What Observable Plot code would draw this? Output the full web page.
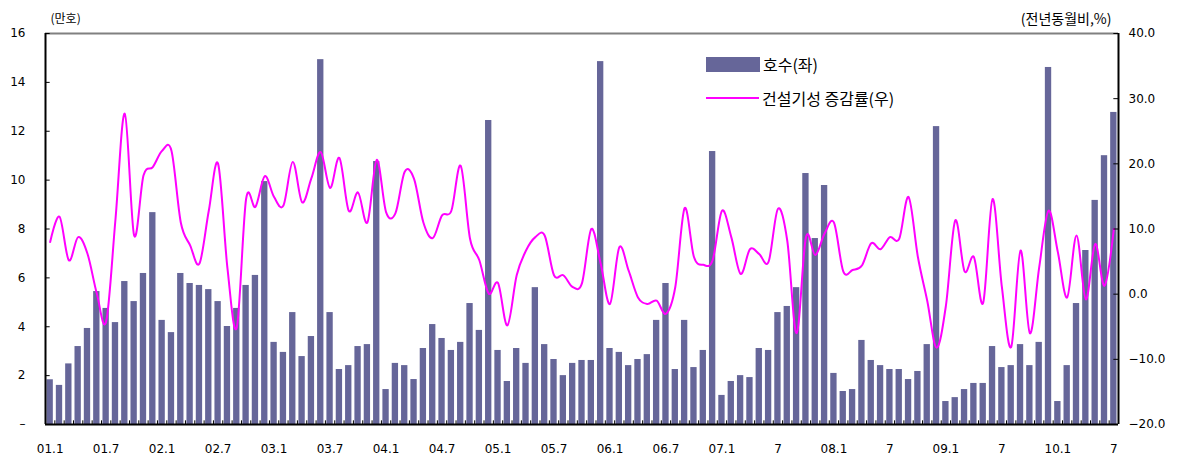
<!DOCTYPE html>
<html>
<head>
<meta charset="utf-8">
<script src="https://cdn.jsdelivr.net/npm/d3@7"></script>
<script src="https://cdn.jsdelivr.net/npm/@observablehq/plot@0.6"></script>
<style>
  body { margin: 0; background: #fff; }
  #wrap { position: relative; width: 1179px; height: 459px; }
  #wrap svg { position: absolute; left: 0; top: 0; }
  .leg { position: absolute; left: 706px; height: 20px; display: flex; align-items: center;
         font-family: "Noto Sans CJK KR", sans-serif; font-size: 16px; color: #000; white-space: nowrap; }
  .sw { margin-right: 3px; }
</style>
</head>
<body>
<div id="wrap">
  <div class="leg" style="top:54px"><div class="sw" style="width:54px;height:15px;background:#666699"></div><span>호수(좌)</span></div>
  <div class="leg" style="top:88px"><div class="sw" style="width:53px;height:2px;background:#FF00FF"></div><span>건설기성 증감률(우)</span></div>
</div>
<script>
// 월별 주택 호수 (만호), 2001.1 ~ 2010.7
const homes = [
  1.83, 1.60, 2.48, 3.19, 3.93, 5.44, 4.75, 4.17, 5.85, 5.03, 6.18, 8.67,
  4.26, 3.76, 6.18, 5.77, 5.69, 5.52, 5.03, 4.01, 4.75, 5.69, 6.10, 9.94,
  3.36, 2.95, 4.58, 2.78, 3.60, 14.93, 4.58, 2.25, 2.41, 3.19, 3.27, 10.76,
  1.43, 2.50, 2.41, 1.84, 3.11, 4.09, 3.52, 3.03, 3.36, 4.95, 3.85, 12.44,
  3.03, 1.76, 3.11, 2.50, 5.60, 3.27, 2.66, 2.00, 2.50, 2.62, 2.62, 14.85,
  3.11, 2.95, 2.41, 2.66, 2.86, 4.26, 5.77, 2.25, 4.26, 2.33, 3.03, 11.17,
  1.19, 1.76, 2.00, 1.92, 3.11, 3.03, 4.58, 4.83, 5.60, 10.27, 7.61, 9.78,
  2.09, 1.35, 1.43, 3.44, 2.62, 2.41, 2.25, 2.25, 1.84, 2.17, 3.27, 12.19,
  0.94, 1.10, 1.43, 1.68, 1.68, 3.19, 2.33, 2.41, 3.27, 2.41, 3.36, 14.61,
  0.94, 2.41, 4.95, 7.12, 9.17, 11.00, 12.77
];
// 건설기성 증감률 (전년동월비, %)
const rates = [
  8.0, 11.9, 5.2, 8.75, 6.2, 0.1, -4.2, 11.5, 27.7, 9.0, 18.2, 19.5,
  22.0, 22.0, 11.0, 7.5, 4.7, 12.8, 20.0, 4.0, -5.1, 14.6, 13.4, 18.1,
  14.9, 13.6, 20.3, 14.1, 17.8, 21.8, 16.3, 20.9, 12.8, 15.6, 11.0, 20.6,
  12.6, 12.4, 18.8, 17.7, 11.0, 8.6, 12.1, 12.8, 19.7, 8.5, 5.2, 0.1,
  1.7, -4.8, 2.9, 6.7, 8.75, 9.0, 2.9, 2.9, 1.1, 1.7, 10.0, 4.7,
  -1.5, 7.2, 3.6, -0.5, -1.5, -1.0, -3.0, 1.1, 13.2, 5.7, 4.5, 5.2,
  12.8, 8.75, 3.1, 6.9, 6.15, 5.0, 13.1, 8.2, -6.0, 8.75, 6.0, 9.3,
  11.0, 3.5, 3.7, 4.4, 7.8, 6.9, 8.75, 8.5, 14.9, 5.7, -1.0, -8.2,
  -1.8, 11.3, 3.5, 5.7, -1.3, 14.6, 1.1, -8.1, 6.7, -6.0, 4.1, 12.8,
  6.45, -0.5, 9.0, -0.8, 7.7, 1.3, 10.0
];
const tickMonths = [0, 6, 12, 18, 24, 30, 36, 42, 48, 54, 60, 66, 72, 78, 84, 90, 96, 102, 108, 114];
const tickLabels = ["01.1", "01.7", "02.1", "02.7", "03.1", "03.7", "04.1", "04.7", "05.1", "05.7",
                    "06.1", "06.7", "07.1", "7", "08.1", "7", "09.1", "7", "10.1", "7"];
const leftTicks = [0, 2, 4, 6, 8, 10, 12, 14, 16];
const rightTicks = [-20, -10, 0, 10, 20, 30, 40];

const n = homes.length;
const data = homes.map((h, i) => ({i, homes: h, rate: rates[i]}));
// right axis (-20..40) mapped onto left scale (0..16)
const toLeft = r => (r + 20) * 16 / 60;
const toRight = v => v * 60 / 16 - 20;
const fmtR = v => {
  const r = Math.round(toRight(v) * 10) / 10;
  return (r < 0 ? "\u2212" : "") + Math.abs(r).toFixed(1);
};

const chart = Plot.plot({
  width: 1179, height: 459,
  marginLeft: 45, marginRight: 61, marginTop: 33, marginBottom: 35,
  x: {type: "linear", domain: [0, n], label: null},
  y: {domain: [0, 16], label: null},
  style: {fontFamily: "DejaVu Sans", fontSize: "12px", color: "#000", background: "transparent"},
  marks: [
    Plot.rectY(data, {x1: d => d.i, x2: d => d.i + 1, y: "homes", fill: "#666699", insetLeft: 1.5, insetRight: 1.5}),
    Plot.line(data, {x: d => d.i + 0.5, y: d => toLeft(d.rate), stroke: "#FF00FF", strokeWidth: 2, curve: "cardinal"}),
    Plot.ruleY([16], {stroke: "#808080", strokeWidth: 2}),
    Plot.ruleY([0], {stroke: "#000", strokeWidth: 2}),
    Plot.ruleX([0], {stroke: "#000", strokeWidth: 2}),
    Plot.ruleX([n], {stroke: "#000", strokeWidth: 2}),
    Plot.ruleY(leftTicks, {x1: 0, x2: 0.5, stroke: "#000"}),
    Plot.ruleY(rightTicks.map(toLeft), {x1: n - 0.5, x2: n, stroke: "#000"}),
    Plot.ruleX(d3.range(1, n), {y1: 0, y2: 0.15, stroke: "#000"}),
    Plot.axisY(leftTicks, {anchor: "left", tickSize: 0, tickPadding: 20, label: null,
      tickFormat: d => d === 0 ? "\u2013" : String(d)}),
    Plot.axisY(rightTicks.map(toLeft), {anchor: "right", tickSize: 0, tickPadding: 10, label: null, tickFormat: fmtR}),
    Plot.axisX(tickMonths.map(i => i + 0.5), {anchor: "bottom", tickSize: 0, tickPadding: 20, label: null,
      tickFormat: d => tickLabels[tickMonths.indexOf(Math.round(d - 0.5))]}),
    Plot.text(["(만호)"], {text: d => d, frameAnchor: "top-left", dx: 5, dy: -19, textAnchor: "start",
      fontFamily: "Noto Sans CJK KR", fontSize: 12}),
    Plot.text(["(전년동월비,%)"], {text: d => d, frameAnchor: "top-right", dx: -7, dy: -19, textAnchor: "end",
      fontFamily: "Noto Sans CJK KR", fontSize: 14})
  ]
});
document.getElementById("wrap").prepend(chart);
</script>
</body>
</html>
